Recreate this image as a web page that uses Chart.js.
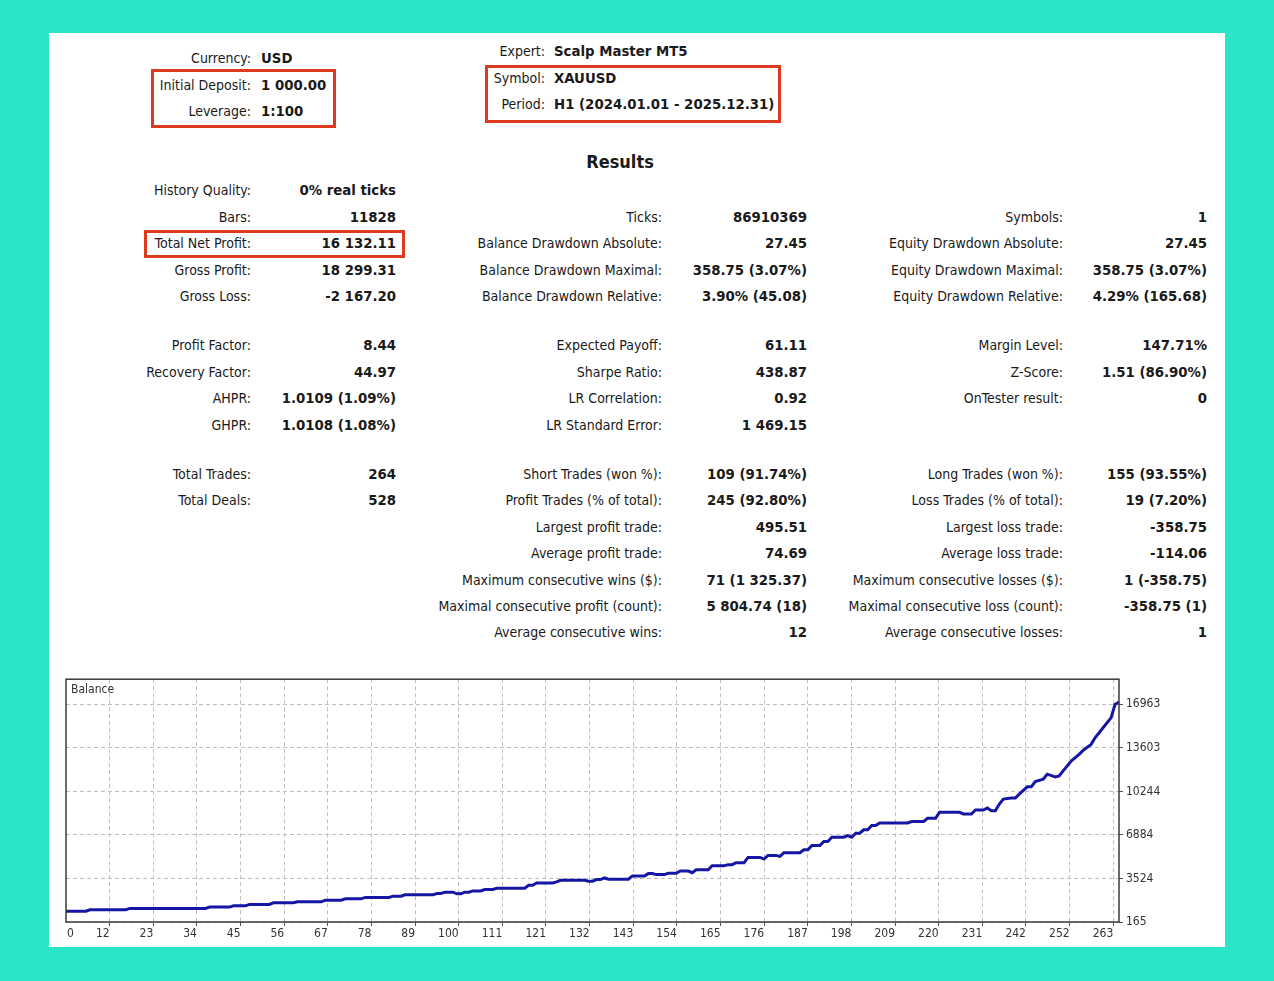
<!DOCTYPE html>
<html>
<head>
<meta charset="utf-8">
<script src="https://cdn.jsdelivr.net/npm/chart.js@4/dist/chart.umd.min.js"></script>
<style>
  html, body { margin: 0; padding: 0; }
  body {
    width: 1274px; height: 981px; overflow: hidden; position: relative;
    background: #28e6c6;
    font-family: "DejaVu Sans Condensed", "DejaVu Sans", Tahoma, sans-serif;
    color: #1a1a1a;
  }
  #panel { position: absolute; left: 49px; top: 33px; width: 1176px; height: 914px; background: #fff; }
  .t { position: absolute; font-size: 14px; line-height: 20px; white-space: nowrap; }
  .b { font-weight: bold; font-size: 14.8px; }
  .box { position: absolute; border: 3px solid #dc3a1e; box-sizing: border-box; }
  #results { position: absolute; left: 0; width: 1240px; top: 151px; text-align: center; font-weight: bold; font-size: 18px; }
  #chartWrap { position: absolute; left: 56px; top: 669px; width: 1124px; height: 276px; }
</style>
</head>
<body>
<div id="panel"></div>
<div id="texts"></div>
<div class="box" style="left:151px;top:69px;width:185px;height:59px"></div>
<div class="box" style="left:485px;top:65px;width:296px;height:58px"></div>
<div class="box" style="left:144px;top:230px;width:261px;height:28px"></div>
<div id="results">Results</div>
<div id="chartWrap"><canvas id="balanceChart"></canvas></div>

<script>
// balance curve: trade number -> balance
const tradeNo = [0, 5, 6, 15, 16, 35, 36, 41, 42, 45, 46, 51, 52, 57, 58, 64, 65, 69, 70, 74,
  75, 81, 82, 84, 85, 92, 93, 94, 95, 97, 98, 99, 100, 101, 102, 104, 105, 107, 108, 115,
  116, 117, 118, 122, 123, 124, 130, 131, 132, 133, 134, 135, 136, 141, 142, 145, 146, 147, 148, 150,
  151, 153, 154, 156, 157, 158, 161, 162, 165, 166, 167, 168, 170, 171, 174, 175, 176, 178, 179, 180,
  184, 185, 186, 187, 189, 190, 191, 192, 195, 196, 197, 198, 199, 200, 201, 202, 203, 204, 211, 212,
  215, 216, 218, 219, 224, 225, 227, 228, 230, 231, 232, 233, 234, 235, 237, 238, 239, 241, 242, 243,
  245, 246, 248, 249, 250, 252, 254, 255, 257, 258, 260, 262, 263, 264];
const balance = [1000, 1000, 1108, 1108, 1216, 1216, 1316, 1316, 1415, 1415, 1523, 1523, 1645, 1645, 1722, 1722, 1852, 1852, 1952, 1952,
  2060, 2060, 2160, 2160, 2260, 2260, 2366, 2366, 2466, 2466, 2336, 2336, 2466, 2466, 2566, 2566, 2673, 2673, 2773, 2773,
  3003, 3003, 3180, 3180, 3256, 3386, 3386, 3310, 3310, 3440, 3440, 3563, 3463, 3463, 3717, 3717, 3900, 3900, 3823, 3823,
  3923, 3923, 4100, 4100, 3970, 4200, 4200, 4515, 4515, 4590, 4590, 4745, 4745, 5150, 5150, 5020, 5304, 5304, 5227, 5511,
  5511, 5741, 5741, 6071, 6071, 6378, 6378, 6707, 6707, 6838, 6707, 7014, 7014, 7275, 7275, 7605, 7605, 7812, 7812, 7912,
  7912, 8165, 8165, 8625, 8625, 8502, 8502, 8809, 8809, 8962, 8755, 8755, 9269, 9653, 9730, 9730, 10036, 10596, 10596, 11003,
  11187, 11570, 11363, 11440, 11823, 12590, 13104, 13411, 13871, 14382, 15149, 15916, 16943, 17132.11];

const xTickLabels = ['0', '12', '23', '34', '45', '56', '67', '78', '89', '100', '111', '121', '132',
  '143', '154', '165', '176', '187', '198', '209', '220', '231', '242', '252', '263'];
const yTickValues = [165, 3524.6, 6884.2, 10243.8, 13603.4, 16963];
const yTickLabels = ['165', '3524', '6884', '10244', '13603', '16963'];

// report fields: [label, value]
const headerLeft = [['Currency:', 'USD'], ['Initial Deposit:', '1 000.00'], ['Leverage:', '1:100']];
const headerRight = [['Expert:', 'Scalp Master MT5'], ['Symbol:', 'XAUUSD'], ['Period:', 'H1 (2024.01.01 - 2025.12.31)']];

const col1 = [
  ['History Quality:', '0% real ticks'], ['Bars:', '11828'], ['Total Net Profit:', '16 132.11'],
  ['Gross Profit:', '18 299.31'], ['Gross Loss:', '-2 167.20'], null,
  ['Profit Factor:', '8.44'], ['Recovery Factor:', '44.97'], ['AHPR:', '1.0109 (1.09%)'], ['GHPR:', '1.0108 (1.08%)'], null,
  ['Total Trades:', '264'], ['Total Deals:', '528']
];
const col2 = [
  null, ['Ticks:', '86910369'], ['Balance Drawdown Absolute:', '27.45'],
  ['Balance Drawdown Maximal:', '358.75 (3.07%)'], ['Balance Drawdown Relative:', '3.90% (45.08)'], null,
  ['Expected Payoff:', '61.11'], ['Sharpe Ratio:', '438.87'], ['LR Correlation:', '0.92'], ['LR Standard Error:', '1 469.15'], null,
  ['Short Trades (won %):', '109 (91.74%)'], ['Profit Trades (% of total):', '245 (92.80%)'],
  ['Largest profit trade:', '495.51'], ['Average profit trade:', '74.69'],
  ['Maximum consecutive wins ($):', '71 (1 325.37)'], ['Maximal consecutive profit (count):', '5 804.74 (18)'],
  ['Average consecutive wins:', '12']
];
const col3 = [
  null, ['Symbols:', '1'], ['Equity Drawdown Absolute:', '27.45'],
  ['Equity Drawdown Maximal:', '358.75 (3.07%)'], ['Equity Drawdown Relative:', '4.29% (165.68)'], null,
  ['Margin Level:', '147.71%'], ['Z-Score:', '1.51 (86.90%)'], ['OnTester result:', '0'], null, null,
  ['Long Trades (won %):', '155 (93.55%)'], ['Loss Trades (% of total):', '19 (7.20%)'],
  ['Largest loss trade:', '-358.75'], ['Average loss trade:', '-114.06'],
  ['Maximum consecutive losses ($):', '1 (-358.75)'], ['Maximal consecutive loss (count):', '-358.75 (1)'],
  ['Average consecutive losses:', '1']
];

const texts = document.getElementById('texts');

function addText(str, y, opts) {
  const d = document.createElement('div');
  d.className = 't' + (opts.bold ? ' b' : '');
  d.textContent = str;
  d.style.top = (y - 10) + 'px';
  if (opts.right !== undefined) d.style.right = (1274 - opts.right) + 'px';
  else d.style.left = opts.left + 'px';
  texts.appendChild(d);
}

function addHeader(rows, labelRight, valueLeft, y0) {
  rows.forEach((r, i) => {
    const y = y0 + i * 26.5;
    addText(r[0], y, { right: labelRight });
    addText(r[1], y, { left: valueLeft, bold: true });
  });
}

addHeader(headerLeft, 251, 261, 58);
addHeader(headerRight, 545, 554, 51);

// row centres (a blank row is a half-height gap in the report)
const rowY = [190, 217, 243, 270, 296, 320, 345, 372, 398, 425, 449, 474, 500, 527, 553, 580, 606, 632];

function addColumn(rows, labelRight, valueRight) {
  rows.forEach((r, i) => {
    if (!r) return;
    addText(r[0], rowY[i], { right: labelRight });
    addText(r[1], rowY[i], { right: valueRight, bold: true });
  });
}

addColumn(col1, 251, 396);
addColumn(col2, 662, 807);
addColumn(col3, 1063, 1207);

// balance chart
const xGridStep = 10.94;
const tickFont = { family: '"DejaVu Sans Condensed", "DejaVu Sans", Tahoma, sans-serif', size: 12 };

const framePlugin = {
  id: 'frame',
  afterDraw(chart) {
    const { ctx, chartArea: a } = chart;
    ctx.save();
    ctx.strokeStyle = '#3a3a3a';
    ctx.lineWidth = 1.5;
    ctx.strokeRect(a.left, a.top, a.right - a.left, a.bottom - a.top);
    ctx.fillStyle = '#333';
    ctx.font = '12px "DejaVu Sans Condensed", "DejaVu Sans", sans-serif';
    ctx.textBaseline = 'middle';
    ctx.fillText('Balance', a.left + 5, a.top + 11);
    ctx.restore();
  }
};

new Chart(document.getElementById('balanceChart'), {
  type: 'line',
  data: {
    datasets: [{
      label: 'Balance',
      data: tradeNo.map((t, i) => ({ x: t, y: balance[i] })),
      borderColor: '#1616a4',
      borderWidth: 3,
      pointRadius: 0,
      tension: 0,
      fill: false
    }]
  },
  options: {
    responsive: true,
    maintainAspectRatio: false,
    animation: false,
    devicePixelRatio: 1,
    layout: { padding: { left: 10, top: 10, right: 0, bottom: 0 } },
    plugins: { legend: { display: false }, tooltip: { enabled: false } },
    scales: {
      x: {
        type: 'linear',
        min: 0,
        max: 264,
        afterBuildTicks: axis => {
          axis.ticks = xTickLabels.map((_, i) => ({ value: i === 0 ? 2 : i * xGridStep }));
        },
        afterFit: scale => { scale.height = 23; },
        ticks: {
          autoSkip: false,
          maxRotation: 0,
          align: 'end',
          padding: 1,
          color: '#333',
          font: tickFont,
          callback: (v, i) => xTickLabels[i]
        },
        grid: {
          color: ctx => ctx.index === 0 ? 'rgba(0,0,0,0)' : '#bfbfbf',
          tickColor: ctx => ctx.index === 0 ? 'rgba(0,0,0,0)' : '#555',
          tickLength: 4,
          tickBorderDash: [1, 0],
          lineWidth: 1
        },
        border: { display: false, dash: [4, 3] }
      },
      y: {
        position: 'right',
        min: 165,
        max: 18900,
        afterBuildTicks: axis => {
          axis.ticks = yTickValues.map(v => ({ value: v }));
        },
        afterFit: scale => { scale.width = 61; },
        ticks: {
          padding: 3,
          color: '#333',
          font: tickFont,
          callback: (v, i) => yTickLabels[i]
        },
        grid: {
          color: '#bfbfbf',
          tickColor: '#555',
          tickLength: 4,
          tickBorderDash: [1, 0],
          lineWidth: 1
        },
        border: { display: false, dash: [4, 3] }
      }
    }
  },
  plugins: [framePlugin]
});
</script>
</body>
</html>
